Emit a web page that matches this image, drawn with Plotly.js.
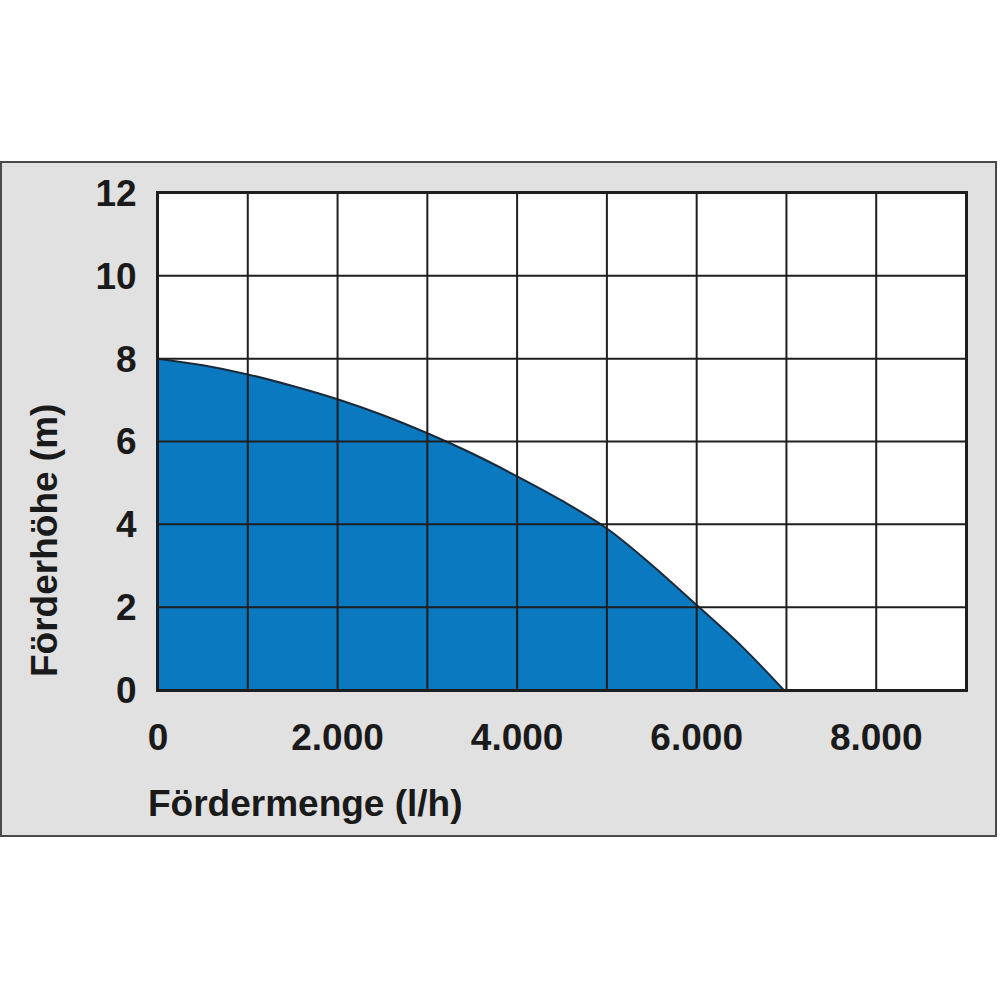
<!DOCTYPE html>
<html>
<head>
<meta charset="utf-8">
<script src="https://cdn.plot.ly/plotly-3.0.1.min.js"></script>
<style>
  html, body { margin: 0; padding: 0; background: #ffffff; }
  #chart { width: 1000px; height: 1000px; }
</style>
</head>
<body>
<div id="chart"></div>
<script>
// Pump curve: flow rate (l/h) vs. head (m)
const flow = [0, 500, 1000, 1500, 2000, 2500, 3000, 3500, 4000, 4500, 5000, 5500, 6000, 6500, 6970];
const head = [8, 7.84, 7.62, 7.34, 7.02, 6.64, 6.2, 5.71, 5.16, 4.57, 3.9, 3.02, 2.05, 1.06, 0];

const xTickVals = [0, 1000, 2000, 3000, 4000, 5000, 6000, 7000, 8000, 9000];
const xTickText = ['0', '', '2.000', '', '4.000', '', '6.000', '', '8.000', ''];
const yTickVals = [0, 2, 4, 6, 8, 10, 12];

const xTitle = 'Fördermenge (l/h)';
const yTitle = 'Förderhöhe (m)';

const fontFamily = '"Liberation Sans", Arial, sans-serif';
const textColor = '#1a1a1a';
const gridColor = '#1e1e1e';
const fillColor = '#0a79c0';
const panelColor = '#e1e1e1';

// plot area in pixels: x 158..966, y 193..690
const plotW = 808, plotH = 497;
const px = v => (v - 158) / plotW;
const py = v => (690 - v) / plotH;

const data = [{
    x: flow,
    y: head,
    type: 'scatter',
    mode: 'lines',
    fill: 'tozeroy',
    fillcolor: fillColor,
    line: { color: '#1a2a3a', width: 2, shape: 'spline', smoothing: 1 },
    hoverinfo: 'skip'
}];

// grid drawn above the filled area, as in the original
const xRange = [0, 9000], yRange = [0, 12];
const gridShapes = [];
xTickVals.forEach(v => gridShapes.push({
    type: 'line', xref: 'x', yref: 'y', layer: 'above',
    x0: v, x1: v, y0: yRange[0], y1: yRange[1],
    line: { color: gridColor, width: 2 }
}));
yTickVals.forEach(v => gridShapes.push({
    type: 'line', xref: 'x', yref: 'y', layer: 'above',
    x0: xRange[0], x1: xRange[1], y0: v, y1: v,
    line: { color: gridColor, width: 2 }
}));

const tickFont = { family: fontFamily, size: 37, color: textColor, weight: 'bold' };
const titleFont = { family: fontFamily, size: 37, color: textColor, weight: 'bold' };

const layout = {
    width: 1000,
    height: 1000,
    margin: { l: 158, r: 34, t: 193, b: 310 },
    paper_bgcolor: '#ffffff',
    plot_bgcolor: '#ffffff',
    showlegend: false,
    font: { family: fontFamily, color: textColor },
    xaxis: {
        range: xRange,
        tickvals: xTickVals,
        ticktext: xTickText,
        showgrid: false,
        zeroline: false,
        showline: true,
        linecolor: gridColor,
        linewidth: 2,
        mirror: true,
        ticks: '',
        ticklabelstandoff: 14,
        tickfont: tickFont,
        fixedrange: true
    },
    yaxis: {
        range: yRange,
        tickvals: yTickVals,
        showgrid: false,
        zeroline: false,
        showline: true,
        linecolor: gridColor,
        linewidth: 2,
        mirror: true,
        ticks: '',
        ticklabelstandoff: 12,
        tickfont: tickFont,
        fixedrange: true
    },
    shapes: [
        {
            type: 'rect', xref: 'paper', yref: 'paper', layer: 'below',
            x0: px(1), x1: px(996), y0: py(836), y1: py(162),
            fillcolor: panelColor,
            line: { color: '#4a4a4a', width: 2 }
        },
        {
            type: 'rect', xref: 'paper', yref: 'paper', layer: 'below',
            x0: 0, x1: 1, y0: 0, y1: 1,
            fillcolor: '#ffffff',
            line: { width: 0 }
        }
    ].concat(gridShapes),
    annotations: [
        {
            text: xTitle, xref: 'paper', yref: 'paper',
            x: px(146), y: py(803), xanchor: 'left', yanchor: 'middle',
            showarrow: false,
            font: titleFont
        },
        {
            text: yTitle, xref: 'paper', yref: 'paper',
            x: px(44), y: py(541), xanchor: 'center', yanchor: 'middle',
            textangle: -90, showarrow: false,
            font: titleFont
        }
    ]
};

Plotly.newPlot('chart', data, layout, { staticPlot: true, displayModeBar: false });
</script>
</body>
</html>
